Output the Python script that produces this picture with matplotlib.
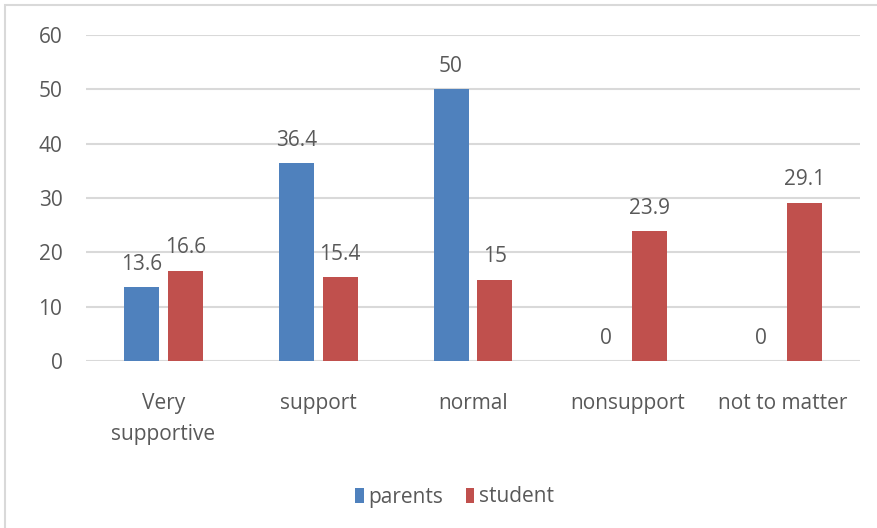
import matplotlib.pyplot as plt
import numpy as np
from matplotlib.patches import Rectangle

categories = ["Very\nsupportive", "support", "normal", "nonsupport", "not to matter"]
parents = [13.6, 36.4, 50, 0, 0]
student = [16.6, 15.4, 15, 23.9, 29.1]

blue = "#4F81BD"
red = "#C0504D"
txt = "#595959"
grid = "#D9D9D9"
fs = 15

plt.rcParams["font.family"] = ["Open Sans", "DejaVu Sans"]

fig = plt.figure(figsize=(8.77, 5.28), dpi=100)
# chart frame, running off the right and bottom edges
fig.patches.append(Rectangle((5 / 877, -0.1), 1.0, 1 - 5 / 528 + 0.1,
                             transform=fig.transFigure, fill=False,
                             edgecolor=grid, linewidth=1.5))

ax = fig.add_axes([86 / 877, 1 - 361 / 528, (860 - 86) / 877, 326 / 528])
x = np.arange(len(categories))
w = 0.226
off = 0.142
b1 = ax.bar(x - off, parents, w, color=blue, label="parents")
b2 = ax.bar(x + off, student, w, color=red, label="student")

for bars, vals in ((b1, parents), (b2, student)):
    for b, v in zip(bars, vals):
        ax.annotate(f"{v:g}", (b.get_x() + b.get_width() / 2, v),
                    xytext=(0, 9), textcoords="offset points",
                    ha="center", va="bottom", fontsize=fs, color=txt)

ax.set_xlim(-0.5, len(categories) - 0.5)
ax.set_ylim(0, 60)
ax.set_yticks(range(0, 61, 10))
ax.yaxis.grid(True, color=grid, linewidth=1.5)
ax.set_axisbelow(True)
for s in ax.spines.values():
    s.set_visible(False)
ax.tick_params(length=0, labelsize=fs, colors=txt)
ax.tick_params(axis="y", pad=17)
ax.tick_params(axis="x", pad=23)
ax.set_xticks(x)
ax.set_xticklabels(categories, linespacing=1.6)

fig.legend(handles=[b1, b2], loc="center", bbox_to_anchor=(0.518, 1 - 497 / 528),
           ncol=2, frameon=False, fontsize=fs, handlelength=0.42, handleheight=0.7,
           handletextpad=0.2, columnspacing=1.1, labelcolor=txt)

fig.savefig("out.png", dpi=100)
